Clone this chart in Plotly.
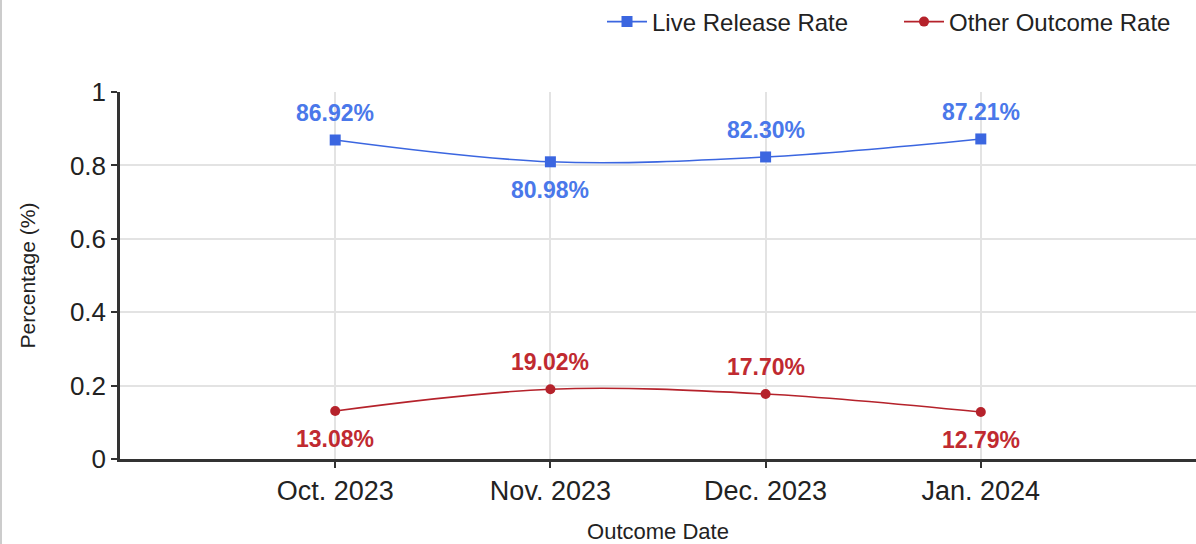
import plotly.graph_objects as go

categories = ["Oct. 2023", "Nov. 2023", "Dec. 2023", "Jan. 2024"]
live_release = [0.8692, 0.8098, 0.8230, 0.8721]
other_outcome = [0.1308, 0.1902, 0.1770, 0.1279]
live_label_pos = ["top", "bottom", "top", "top"]
other_label_pos = ["bottom", "top", "top", "bottom"]
y_ticks = [0, 0.2, 0.4, 0.6, 0.8, 1]
y_tick_text = ["0", "0.2", "0.4", "0.6", "0.8", "1"]

BLUE = "#3b66e0"
BLUE_LBL = "#4a78ea"
RED = "#b5222b"
RED_LBL = "#c02a30"
FONT = "Liberation Sans, Arial, sans-serif"

fig = go.Figure()
fig.add_trace(go.Scatter(
    x=categories, y=live_release, name="Live Release Rate",
    mode="lines+markers", line=dict(color=BLUE, width=1.6, shape="spline"),
    marker=dict(symbol="square", size=11, color=BLUE),
))
fig.add_trace(go.Scatter(
    x=categories, y=other_outcome, name="Other Outcome Rate",
    mode="lines+markers", line=dict(color=RED, width=1.6, shape="spline"),
    marker=dict(symbol="circle", size=10, color=RED),
))

annotations = []
for series, positions, color in [(live_release, live_label_pos, BLUE_LBL),
                                 (other_outcome, other_label_pos, RED_LBL)]:
    for cat, val, pos in zip(categories, series, positions):
        annotations.append(dict(
            x=cat, y=val, xref="x", yref="y", text=f"{val*100:.2f}%",
            showarrow=False, yshift=27 if pos == "top" else -28,
            font=dict(family=FONT, size=23, color=color, weight="bold"),
        ))

fig.update_layout(
    width=1196, height=544,
    margin=dict(l=120, r=0, t=92, b=85),
    paper_bgcolor="white", plot_bgcolor="white",
    font=dict(family=FONT, color="#222"),
    annotations=annotations,
    showlegend=True,
    legend=dict(orientation="h", xanchor="left", x=(605 - 120) / 1076, yref="container",
                y=1 - 22 / 544, yanchor="middle",
                font=dict(family=FONT, size=24, color="#222"),
                itemwidth=40, entrywidth=242, bgcolor="rgba(0,0,0,0)"),
    shapes=[dict(type="line", xref="paper", yref="paper",
                 x0=-119 / 1076, x1=-119 / 1076, y0=-85 / 367, y1=1 + 92 / 367,
                 line=dict(color="#cccccc", width=2))],
)
fig.update_xaxes(
    type="category", range=[-1, 4], showgrid=True, gridcolor="#e3e3e3", gridwidth=1.5,
    showline=True, linecolor="#333", linewidth=2.5, ticks="outside", ticklen=6,
    tickcolor="#333", tickwidth=2, tickfont=dict(family=FONT, size=27, color="#222"),
    title=dict(text="Outcome Date", font=dict(family=FONT, size=22, color="#222"), standoff=20),
    zeroline=False,
)
fig.update_yaxes(
    range=[0, 1], tickvals=y_ticks, ticktext=y_tick_text, showgrid=True,
    gridcolor="#e3e3e3", gridwidth=1.5, showline=True, linecolor="#333", linewidth=2.5,
    ticks="outside", ticklen=6, tickcolor="#333", tickwidth=2,
    tickfont=dict(family=FONT, size=26, color="#222"),
    title=dict(text="Percentage (%)", font=dict(family=FONT, size=21, color="#222"), standoff=29),
    zeroline=False,
)

fig.write_html("out.html", config={"displayModeBar": False},
               post_script="document.body.style.margin='0px';")
